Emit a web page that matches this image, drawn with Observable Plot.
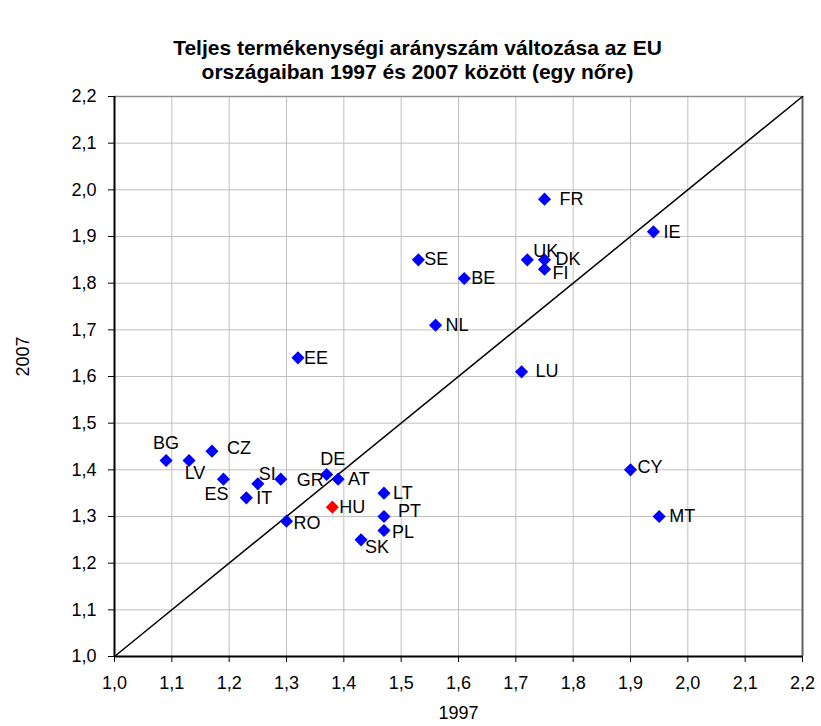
<!DOCTYPE html>
<html>
<head>
<meta charset="utf-8">
<script src="https://cdn.jsdelivr.net/npm/d3@7"></script>
<script src="https://cdn.jsdelivr.net/npm/@observablehq/plot@0.6"></script>
<style>
  html, body { margin: 0; padding: 0; background: #fff; }
  body { width: 821px; height: 726px; overflow: hidden; font-family: "Liberation Sans", Arial, sans-serif; }
  #title { box-sizing: border-box; width: 821px; height: 84px; padding-top: 36px; padding-left: 14px;
           text-align: center; font-weight: bold; font-size: 21px; line-height: 24px; color: #000; }
  #chart svg { display: block; }
</style>
</head>
<body>
<div id="title">Teljes termékenységi arányszám változása az EU<br>országaiban 1997 és 2007 között (egy nőre)</div>
<div id="chart"></div>
<script>
// ---- data ----
const countries = ["BG","LV","CZ","ES","IT","SI","GR","DE","AT","HU","RO","LT","PT","PL","SK","FR","IE","SE","UK","DK","FI","BE","NL","LU","EE","CY","MT"];
const tfr1997 = [1.09,1.13,1.17,1.19,1.23,1.25,1.29,1.37,1.39,1.38,1.30,1.47,1.47,1.47,1.43,1.75,1.94,1.53,1.72,1.75,1.75,1.61,1.56,1.71,1.32,1.90,1.95];
const tfr2007 = [1.42,1.42,1.44,1.38,1.34,1.37,1.38,1.39,1.38,1.32,1.29,1.35,1.30,1.27,1.25,1.98,1.91,1.85,1.85,1.85,1.83,1.81,1.71,1.61,1.64,1.40,1.30];
const highlight = "HU";
const xTicks = [1.0,1.1,1.2,1.3,1.4,1.5,1.6,1.7,1.8,1.9,2.0,2.1,2.2];
const yTicks = [1.0,1.1,1.2,1.3,1.4,1.5,1.6,1.7,1.8,1.9,2.0,2.1,2.2];
const xLabel = "1997";
const yLabel = "2007";

// ---- label placement (layout) ----
const labelPos = {
  BG:["middle",0,-17], LV:["middle",6,13], CZ:["start",15,-3], ES:["middle",-7,15],
  IT:["start",10,0], SI:["start",1,-10], GR:["start",16,1], DE:["middle",6,-15],
  AT:["start",10,0], HU:["start",7,0], RO:["start",7,2], LT:["start",9,0],
  PT:["start",14,-5], PL:["start",8,2], SK:["start",4,7], FR:["start",15,0],
  IE:["start",10,0], SE:["start",6,-1], UK:["start",6,-9], DK:["start",11,-1],
  FI:["start",8,4], BE:["start",7,0], NL:["start",10,0], LU:["start",14,-1],
  EE:["start",6,0], CY:["start",7,-3], MT:["start",10,0]
};

const data = countries.map((c, i) => ({code: c, x: tfr1997[i], y: tfr2007[i]}));
const lo = xTicks[0], hi = xTicks[xTicks.length - 1];
const diag = [{x: lo, y: lo}, {x: hi, y: hi}];
const fmt = d => d.toFixed(1).replace(".", ",");
const FONT = "Liberation Sans, Arial, sans-serif";

const labelMarks = data.map(d => {
  const [anchor, dx, dy] = labelPos[d.code];
  return Plot.text([d], {x: "x", y: "y", text: "code", textAnchor: anchor, dx, dy,
    fontSize: 18, fill: "#000", lineAnchor: "middle"});
});

const chart = Plot.plot({
  width: 821,
  height: 642,
  marginTop: 12,
  marginLeft: 114,
  marginRight: 19,
  marginBottom: 70,
  style: {fontFamily: FONT, fontSize: "18px", color: "#000", background: "#fff"},
  x: {domain: [lo, hi], ticks: xTicks, tickFormat: fmt, tickSize: 6, tickPadding: 14, label: null},
  y: {domain: [lo, hi], ticks: yTicks, tickFormat: fmt, tickSize: 6, tickPadding: 12, label: null},
  marks: [
    Plot.ruleX(xTicks, {stroke: "#c0c0c0", strokeWidth: 1}),
    Plot.ruleY(yTicks, {stroke: "#c0c0c0", strokeWidth: 1}),
    Plot.ruleY([hi], {stroke: "#909090", strokeWidth: 1.5}),
    Plot.ruleX([hi], {stroke: "#606060", strokeWidth: 2}),
    Plot.ruleX([lo], {stroke: "#000", strokeWidth: 2}),
    Plot.ruleY([lo], {stroke: "#000", strokeWidth: 2}),
    Plot.line(diag, {x: "x", y: "y", stroke: "#000", strokeWidth: 1.5}),
    Plot.dot(data, {x: "x", y: "y", symbol: "diamond2", r: 5.9,
      fill: d => d.code === highlight ? "#ff0000" : "#0000ff", stroke: "none"}),
    ...labelMarks,
    Plot.text([xLabel], {text: d => d, frameAnchor: "bottom", dy: 62, fontSize: 18, fill: "#000"}),
    Plot.text([yLabel], {text: d => d, frameAnchor: "left", dx: -91, rotate: -90, fontSize: 18, fill: "#000"})
  ]
});
document.getElementById("chart").appendChild(chart);
</script>
</body>
</html>
